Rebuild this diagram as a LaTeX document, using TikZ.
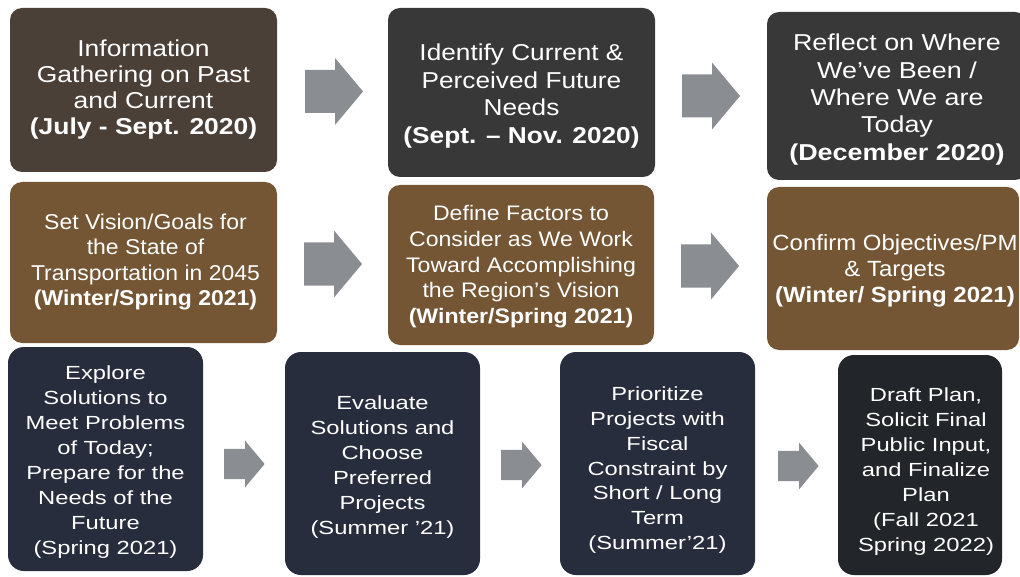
\documentclass[tikz,border=0pt]{standalone}
\usepackage{fontspec}
\setmainfont{Liberation Sans}
\usepackage{graphicx}
\definecolor{cAone}{HTML}{4B4037}
\definecolor{cAdark}{HTML}{383838}
\definecolor{cBrown}{HTML}{745634}
\definecolor{cNavy}{HTML}{272D3C}
\definecolor{cNavyDark}{HTML}{222529}
\definecolor{cArrow}{HTML}{8A8D91}
\newcommand{\bt}[4]{\fontsize{#1}{#2}\selectfont\scalebox{#3}[1]{\begin{tabular}{@{}c@{}}#4\end{tabular}}}
\tikzset{
  stagebox/.style={rounded corners=9pt, inner sep=0pt},
  lowbox/.style={stagebox, rounded corners=12pt},
  boxtext/.style={inner sep=0pt, text=white, align=center},
  blockarr/.pic={\fill[cArrow] (-30,-21.5) -- (0,-21.5) -- (0,-33.5) -- (28,0) -- (0,33.5) -- (0,21.5) -- (-30,21.5) -- cycle;}
}
\begin{document}
\begin{tikzpicture}[x=0.75pt,y=-0.75pt]
\useasboundingbox[fill=white] (0,0) rectangle (1020,577);
% row 1
\node[stagebox, fill=cAone, minimum width=200.25pt, minimum height=123pt] (A1) at (143.5,90) {};
\node[boxtext] (A1t) at (A1.center)
  {\bt{17.25pt}{19.5pt}{1.15}{Information\\Gathering on Past\\and Current\\\textbf{(July - Sept. 2020)}}};
\node[stagebox, fill=cAdark, minimum width=200.25pt, minimum height=126.75pt] (A2) at (521.5,92.5) {};
\node[boxtext] (A2t) at ([yshift=-3pt]A2.center)
  {\bt{17.25pt}{20.8pt}{1.14}{Identify Current \&\\Perceived Future\\Needs\\\textbf{(Sept. – Nov. 2020)}}};
\node[stagebox, fill=cAdark, minimum width=195pt, minimum height=126pt] (A3) at (897,96) {};
\node[boxtext] (A3t) at ([yshift=-3pt]A3.center)
  {\bt{17.25pt}{20.6pt}{1.17}{Reflect on Where\\We've Been /\\Where We are\\Today\\\textbf{(December 2020)}}};
% row 2
\node[stagebox, fill=cBrown, minimum width=200.25pt, minimum height=120.75pt] (B1) at (143.5,262.5) {};
\node[boxtext] (B1t) at ([xshift=1.5pt]B1.center)
  {\bt{16.1pt}{19pt}{1.07}{Set Vision/Goals for\\the State of\\Transportation in 2045\\\textbf{(Winter/Spring 2021)}}};
\node[stagebox, fill=cBrown, minimum width=199.5pt, minimum height=120pt] (B2) at (521,265) {};
\node[boxtext] (B2t) at ([yshift=-1.5pt]B2.center)
  {\bt{15.75pt}{19.3pt}{1.1}{Define Factors to\\Consider as We Work\\Toward Accomplishing\\the Region's Vision\\\textbf{(Winter/Spring 2021)}}};
\node[stagebox, fill=cBrown, minimum width=189pt, minimum height=122.25pt] (B3) at (893,268.5) {};
\node[boxtext] (B3t) at ([xshift=1.5pt,yshift=-2pt]B3.center)
  {\bt{16.5pt}{19.5pt}{1.09}{Confirm Objectives/PM\\\& Targets\\\textbf{(Winter/ Spring 2021)}}};
% row 3
\node[lowbox, fill=cNavy, minimum width=146.25pt, minimum height=168pt] (C1) at (105.5,459) {};
\node[boxtext] (C1t) at ([yshift=-2.5pt]C1.center)
  {\bt{14.25pt}{18.75pt}{1.25}{Explore\\Solutions to\\Meet Problems\\of Today;\\Prepare for the\\Needs of the\\Future\\(Spring 2021)}};
\node[lowbox, fill=cNavy, minimum width=146.25pt, minimum height=167.25pt] (C2) at (382.5,463.5) {};
\node[boxtext] (C2t) at ([yshift=-2.5pt]C2.center)
  {\bt{14.25pt}{18.75pt}{1.25}{Evaluate\\Solutions and\\Choose\\Preferred\\Projects\\(Summer '21)}};
\node[lowbox, fill=cNavy, minimum width=146.25pt, minimum height=167.25pt] (C3) at (657.5,463.5) {};
\node[boxtext] (C3t) at ([yshift=-5pt]C3.center)
  {\bt{14.25pt}{18.6pt}{1.25}{Prioritize\\Projects with\\Fiscal\\Constraint by\\Short / Long\\Term\\(Summer'21)}};
\node[lowbox, fill=cNavyDark, minimum width=123pt, minimum height=165pt] (C4) at (920,465) {};
\node[boxtext] (C4t) at ([xshift=4.5pt,yshift=-5pt]C4.center)
  {\bt{14.25pt}{18.8pt}{1.25}{Draft Plan,\\Solicit Final\\Public Input,\\and Finalize\\Plan\\(Fall 2021\\Spring 2022)}};
% block arrows
\pic (R1a) at (335,91.5) {blockarr};
\pic (R1b) at (712,96) {blockarr};
\pic (R2a) at (334,264) {blockarr};
\pic (R2b) at (711,266) {blockarr};
\pic[scale=0.7] (R3a) at (245,464) {blockarr};
\pic[scale=0.7] (R3b) at (522,465) {blockarr};
\pic[scale=0.7] (R3c) at (799,466) {blockarr};
\end{tikzpicture}
\end{document}
